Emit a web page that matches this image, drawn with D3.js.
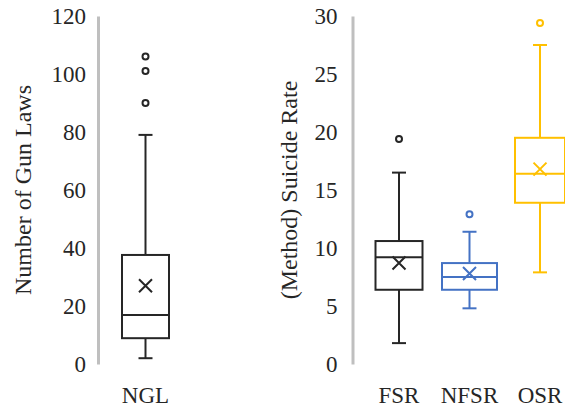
<!DOCTYPE html>
<html>
<head>
<meta charset="utf-8">
<script src="https://cdn.jsdelivr.net/npm/d3@7"></script>
<style>
  body { margin: 0; background: #fff; }
</style>
</head>
<body>
<svg id="chart" width="565" height="410"></svg>
<script>
// box plot statistics
const categories = ["NGL", "FSR", "NFSR", "OSR"];
const whiskerLow = [2.0, 1.8, 4.8, 7.9];
const q1 = [8.9, 6.4, 6.4, 13.9];
const median = [16.9, 9.2, 7.5, 16.4];
const q3 = [37.6, 10.6, 8.7, 19.5];
const whiskerHigh = [79, 16.5, 11.4, 27.5];
const means = [27, 8.7, 7.8, 16.8];
const outliers = [[90, 101, 106], [19.4], [12.9], [29.4]];

const leftTicks = [0, 20, 40, 60, 80, 100, 120];
const rightTicks = [0, 5, 10, 15, 20, 25, 30];

// styling
const font = "'Liberation Serif', 'Times New Roman', 'DejaVu Serif', serif";
const colors = {NGL: "#262626", FSR: "#262626", NFSR: "#4472C4", OSR: "#FFC000"};
const boxWidth = {NGL: 47, FSR: 47, NFSR: 55, OSR: 50};
const capWidth = 14;

let svg = d3.select("#chart");

let rows = categories.map(function (c, i) {
    return {
        name: c, lo: whiskerLow[i], q1: q1[i], med: median[i], q3: q3[i],
        hi: whiskerHigh[i], mean: means[i], out: outliers[i]
    };
});

function drawPanel(opts) {
    let yScale = d3.scaleLinear().domain([0, opts.max]).range([364, 16]);
    let xScale = d3.scalePoint().domain(opts.cats).range(opts.xRange);

    let yAxis = d3.axisLeft(yScale)
        .tickValues(opts.ticks)
        .tickSize(0)
        .tickSizeOuter(0)
        .tickPadding(opts.pad);
    let ax = svg.append("g")
        .attr("transform", "translate(" + opts.axisX + ",0)")
        .call(yAxis)
        .attr("font-family", null)
        .attr("font-size", null);
    ax.select(".domain").attr("stroke", "#bfbfbf").attr("stroke-width", 3);
    ax.selectAll("text")
        .style("font-family", font)
        .style("font-size", "23px")
        .attr("fill", "#262626");

    svg.append("text")
        .attr("transform", "translate(" + opts.titleX + ",190) rotate(-90)")
        .attr("text-anchor", "middle")
        .attr("dominant-baseline", "central")
        .attr("fill", "#262626")
        .style("font-family", font)
        .style("font-size", "24px")
        .text(opts.title);

    let data = rows.filter(function (d) { return opts.cats.includes(d.name); });
    let g = svg.append("g").selectAll("g")
        .data(data)
        .enter()
        .append("g")
        .attr("stroke", function (d) { return colors[d.name]; })
        .attr("fill", "none")
        .attr("stroke-width", 2);

    // whiskers
    g.append("line")
        .attr("x1", function (d) { return xScale(d.name); })
        .attr("x2", function (d) { return xScale(d.name); })
        .attr("y1", function (d) { return yScale(d.hi); })
        .attr("y2", function (d) { return yScale(d.q3); });
    g.append("line")
        .attr("x1", function (d) { return xScale(d.name); })
        .attr("x2", function (d) { return xScale(d.name); })
        .attr("y1", function (d) { return yScale(d.q1); })
        .attr("y2", function (d) { return yScale(d.lo); });
    ["hi", "lo"].forEach(function (k) {
        g.append("line")
            .attr("x1", function (d) { return xScale(d.name) - capWidth / 2; })
            .attr("x2", function (d) { return xScale(d.name) + capWidth / 2; })
            .attr("y1", function (d) { return yScale(d[k]); })
            .attr("y2", function (d) { return yScale(d[k]); });
    });

    // box
    g.append("rect")
        .attr("x", function (d) { return xScale(d.name) - boxWidth[d.name] / 2; })
        .attr("width", function (d) { return boxWidth[d.name]; })
        .attr("y", function (d) { return yScale(d.q3); })
        .attr("height", function (d) { return yScale(d.q1) - yScale(d.q3); });
    g.append("line")
        .attr("x1", function (d) { return xScale(d.name) - boxWidth[d.name] / 2; })
        .attr("x2", function (d) { return xScale(d.name) + boxWidth[d.name] / 2; })
        .attr("y1", function (d) { return yScale(d.med); })
        .attr("y2", function (d) { return yScale(d.med); });

    // mean marker
    let s = 6.5;
    g.append("path")
        .attr("d", function (d) {
            let x = xScale(d.name), y = yScale(d.mean);
            return "M" + (x - s) + "," + (y - s) + "L" + (x + s) + "," + (y + s) +
                "M" + (x - s) + "," + (y + s) + "L" + (x + s) + "," + (y - s);
        });

    // outliers
    g.selectAll("circle")
        .data(function (d) { return d.out.map(function (v) { return {name: d.name, v: v}; }); })
        .enter()
        .append("circle")
        .attr("cx", function (d) { return xScale(d.name); })
        .attr("cy", function (d) { return yScale(d.v); })
        .attr("r", 3);

    // category labels
    svg.append("g").selectAll("text")
        .data(opts.cats)
        .enter()
        .append("text")
        .attr("x", function (d) { return xScale(d); })
        .attr("y", 403)
        .attr("text-anchor", "middle")
        .attr("fill", "#262626")
        .style("font-family", font)
        .style("font-size", "23px")
        .text(function (d) { return d; });
}

drawPanel({
    cats: ["NGL"], max: 120, ticks: leftTicks, xRange: [145.5, 145.5],
    axisX: 98, pad: 12, title: "Number of Gun Laws", titleX: 23
});
drawPanel({
    cats: ["FSR", "NFSR", "OSR"], max: 30, ticks: rightTicks, xRange: [399, 540],
    axisX: 352.5, pad: 15, title: "(Method) Suicide Rate", titleX: 289
});
</script>
</body>
</html>
